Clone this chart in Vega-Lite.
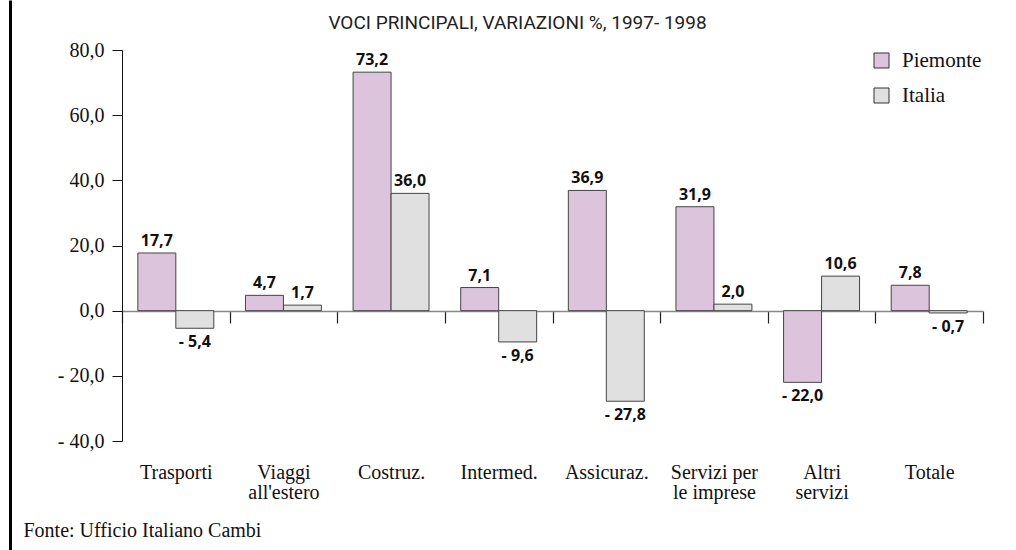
{
  "$schema": "https://vega.github.io/schema/vega-lite/v6.json",
  "autosize": {"type": "none"},
  "width": 861,
  "height": 391,
  "padding": {"left": 122, "top": 50, "right": 33, "bottom": 109},
  "background": "white",
  "config": {"view": {"stroke": null}},
  "title": {
    "text": "VOCI PRINCIPALI, VARIAZIONI %, 1997- 1998",
    "font": "Roboto",
    "fontSize": 19,
    "fontWeight": "normal",
    "color": "#222",
    "anchor": "middle",
    "dx": -35,
    "dy": 38,
    "baseline": "alphabetic",
    "offset": 21
  },
  "data": {
    "values": [
      {"cat": "Trasporti", "series": "Piemonte", "v": 17.7},
      {"cat": "Trasporti", "series": "Italia", "v": -5.4},
      {"cat": "Viaggi|all'estero", "series": "Piemonte", "v": 4.7},
      {"cat": "Viaggi|all'estero", "series": "Italia", "v": 1.7},
      {"cat": "Costruz.", "series": "Piemonte", "v": 73.2},
      {"cat": "Costruz.", "series": "Italia", "v": 36.0},
      {"cat": "Intermed.", "series": "Piemonte", "v": 7.1},
      {"cat": "Intermed.", "series": "Italia", "v": -9.6},
      {"cat": "Assicuraz.", "series": "Piemonte", "v": 36.9},
      {"cat": "Assicuraz.", "series": "Italia", "v": -27.8},
      {"cat": "Servizi per|le imprese", "series": "Piemonte", "v": 31.9},
      {"cat": "Servizi per|le imprese", "series": "Italia", "v": 2.0},
      {"cat": "Altri|servizi", "series": "Piemonte", "v": -22.0},
      {"cat": "Altri|servizi", "series": "Italia", "v": 10.6},
      {"cat": "Totale", "series": "Piemonte", "v": 7.8},
      {"cat": "Totale", "series": "Italia", "v": -0.7}
    ]
  },
  "transform": [
    {"calculate": "(datum.v < 0 ? '- ' : '') + replace(format(abs(datum.v), '.1f'), '.', ',')", "as": "lab"}
  ],
  "layer": [
    {
      "layer": [
        {
          "mark": {"type": "bar", "stroke": "#444", "strokeWidth": 1},
          "encoding": {
            "x": {
              "field": "cat", "type": "nominal", "sort": null,
              "scale": {"paddingInner": 0, "paddingOuter": 0},
              "axis": {
                "orient": "bottom",
                "offset": -130,
                "title": "Fonte: Ufficio Italiano Cambi",
                "titleFont": "Liberation Serif",
                "titleFontSize": 20,
                "titleFontWeight": "normal",
                "titleColor": "#111",
                "titleAnchor": "start",
                "titleAlign": "left",
                "titleBaseline": "middle",
                "titleX": -99,
                "titleY": 219,
                "labelAngle": 0,
                "labelExpr": "split(datum.label, '|')",
                "labelFont": "Liberation Serif",
                "labelFontSize": 20,
                "labelLineHeight": 20,
                "labelColor": "#111",
                "labelPadding": 139,
                "labelBaseline": "top",
                "domainColor": "#888",
                "domainWidth": 1.5,
                "tickBand": "extent",
                "tickColor": "#222",
                "tickSize": 12,
                "tickWidth": 1.2
              }
            },
            "xOffset": {
              "field": "series", "type": "nominal", "sort": ["Piemonte", "Italia"],
              "scale": {"paddingInner": 0, "paddingOuter": 0.417}
            },
            "y": {
              "field": "v", "type": "quantitative",
              "scale": {"domain": [-40, 80], "nice": false, "zero": true},
              "axis": {
                "values": [-40, -20, 0, 20, 40, 60, 80],
                "labelExpr": "(datum.value < 0 ? '- ' : '') + replace(format(abs(datum.value), '.1f'), '.', ',')",
                "labelFont": "Liberation Serif",
                "labelFontSize": 20,
                "labelColor": "#111",
                "labelPadding": 8,
                "domainColor": "#111",
                "tickColor": "#111",
                "tickSize": 10,
                "grid": false,
                "title": null
              }
            },
            "color": {
              "field": "series", "type": "nominal",
              "scale": {"domain": ["Piemonte", "Italia"], "range": ["#dcc4dc", "#e0e0e0"]},
              "legend": {
                "title": null,
                "orient": "none",
                "legendX": 749,
                "legendY": 0,
                "symbolType": "square",
                "symbolSize": 225,
                "symbolStrokeColor": "#333",
                "symbolStrokeWidth": 1,
                "symbolOpacity": 1,
                "labelFont": "Liberation Serif",
                "labelFontSize": 21,
                "labelColor": "#111",
                "labelOffset": 10,
                "rowPadding": 13
              }
            }
          }
        },
        {
          "transform": [{"filter": "datum.v >= 0"}],
          "mark": {"type": "text", "baseline": "bottom", "dy": -4, "font": "Open Sans", "fontSize": 16, "fontWeight": "bold", "color": "#111"},
          "encoding": {
            "x": {"field": "cat", "type": "nominal", "sort": null},
            "xOffset": {"field": "series", "type": "nominal", "sort": ["Piemonte", "Italia"]},
            "y": {"field": "v", "type": "quantitative"},
            "text": {"field": "lab"}
          }
        },
        {
          "transform": [{"filter": "datum.v < 0"}],
          "mark": {"type": "text", "baseline": "top", "dy": 6, "font": "Open Sans", "fontSize": 16, "fontWeight": "bold", "color": "#111"},
          "encoding": {
            "x": {"field": "cat", "type": "nominal", "sort": null},
            "xOffset": {"field": "series", "type": "nominal", "sort": ["Piemonte", "Italia"]},
            "y": {"field": "v", "type": "quantitative"},
            "text": {"field": "lab"}
          }
        }
      ]
    },
    {
      "mark": {"type": "rule", "opacity": 0},
      "encoding": {
        "y": {
          "field": "v", "type": "quantitative",
          "scale": {"domain": [-40, 80], "nice": false, "range": [500, -50]},
          "axis": {
            "orient": "left",
            "offset": 112,
            "domainColor": "#000",
            "domainWidth": 3,
            "labels": false,
            "ticks": false,
            "grid": false,
            "title": null
          }
        }
      }
    }
  ],
  "resolve": {"scale": {"y": "independent"}, "axis": {"y": "independent"}}
}
